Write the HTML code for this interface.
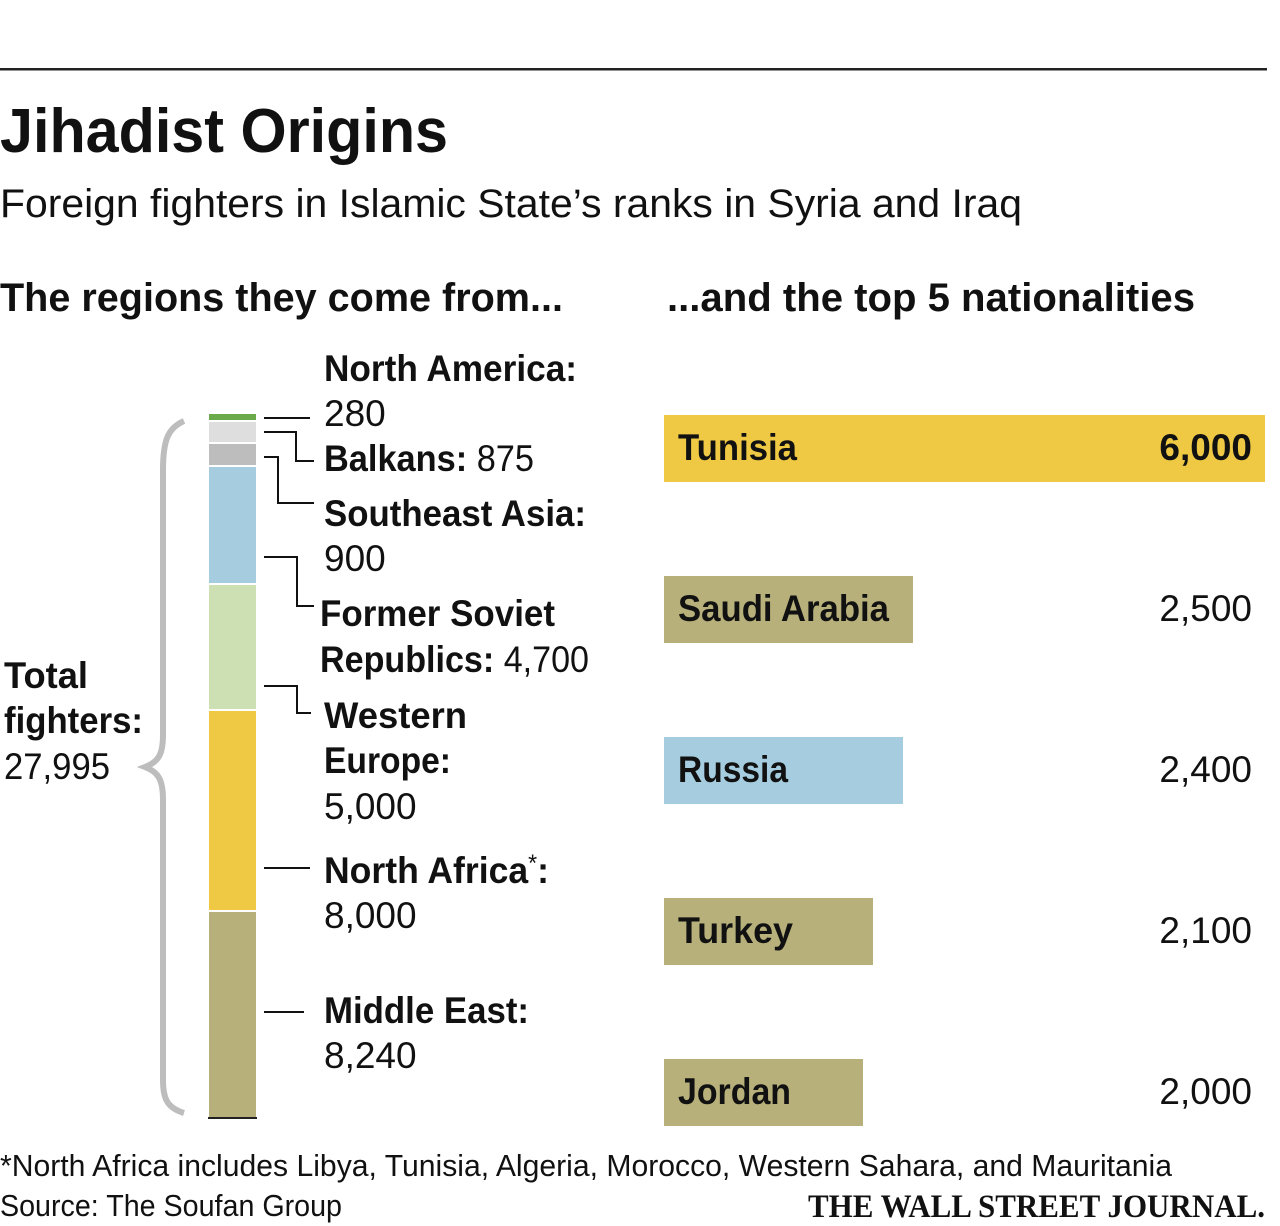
<!DOCTYPE html>
<html><head><meta charset="utf-8"><style>
html,body{margin:0;padding:0;background:#fff;width:1280px;height:1226px;overflow:hidden}
text{font-family:"Liberation Sans Narrow","Liberation Sans",sans-serif;fill:#111}
.b{font-weight:bold}
</style></head><body>
<svg width="1280" height="1226" viewBox="0 0 1280 1226" xmlns="http://www.w3.org/2000/svg">
<rect x="0" y="68" width="1267" height="2.5" fill="#222"/>
<text x="0" y="152" class="b" font-size="62" textLength="448" lengthAdjust="spacingAndGlyphs">Jihadist Origins</text>
<text x="0" y="217" font-size="40" textLength="1022" lengthAdjust="spacingAndGlyphs">Foreign fighters in Islamic State’s ranks in Syria and Iraq</text>
<text x="0" y="311" class="b" font-size="40" textLength="563" lengthAdjust="spacingAndGlyphs">The regions they come from...</text>
<text x="667" y="311" class="b" font-size="40" textLength="528" lengthAdjust="spacingAndGlyphs">...and the top 5 nationalities</text>
<rect x="209" y="414" width="47" height="6" fill="#6aaa4a"/>
<rect x="209" y="422" width="47" height="20" fill="#dedede"/>
<rect x="209" y="444" width="47" height="21" fill="#bdbdbd"/>
<rect x="209" y="467" width="47" height="116" fill="#a5cddf"/>
<rect x="209" y="585" width="47" height="124" fill="#cde0b4"/>
<rect x="209" y="711" width="47" height="199" fill="#efc944"/>
<rect x="209" y="912" width="47" height="205" fill="#b7b07a"/>
<rect x="208" y="1117" width="49" height="2" fill="#222"/>
<path d="M184 421 C168 428 163 440 163 470 L163 735 C163 755 158 762 145 767 C158 772 163 779 163 800 L163 1080 C163 1100 168 1108 184 1113" fill="none" stroke="#bdbdbd" stroke-width="6"/>
<g fill="none" stroke="#111" stroke-width="2">
<path d="M264 418 H310"/>
<path d="M264 432 H296 V461 H314"/>
<path d="M264 457 H278 V503 H314"/>
<path d="M264 557 H297 V606 H314"/>
<path d="M264 686 H297 V713 H311"/>
<path d="M264 868 H310"/>
<path d="M264 1012 H304"/>
</g>
<g font-size="37">
<text x="324" y="381" class="b" textLength="253" lengthAdjust="spacingAndGlyphs">North America:</text>
<text x="324" y="426">280</text>
<text x="324" y="471" textLength="210" lengthAdjust="spacingAndGlyphs"><tspan class="b">Balkans:</tspan> 875</text>
<text x="324" y="526" class="b" textLength="262" lengthAdjust="spacingAndGlyphs">Southeast Asia:</text>
<text x="324" y="571">900</text>
<text x="320" y="626" class="b" textLength="235" lengthAdjust="spacingAndGlyphs">Former Soviet</text>
<text x="320" y="672" textLength="269" lengthAdjust="spacingAndGlyphs"><tspan class="b">Republics:</tspan> 4,700</text>
<text x="324" y="728" class="b" textLength="143" lengthAdjust="spacingAndGlyphs">Western</text>
<text x="324" y="773" class="b" textLength="127" lengthAdjust="spacingAndGlyphs">Europe:</text>
<text x="324" y="819">5,000</text>
<text x="324" y="883" class="b" textLength="225" lengthAdjust="spacingAndGlyphs">North Africa<tspan font-size="24" dy="-12" font-weight="normal">*</tspan><tspan dy="12">:</tspan></text>
<text x="324" y="928">8,000</text>
<text x="324" y="1023" class="b" textLength="205" lengthAdjust="spacingAndGlyphs">Middle East:</text>
<text x="324" y="1068">8,240</text>
<text x="4" y="688" class="b" textLength="84" lengthAdjust="spacingAndGlyphs">Total</text>
<text x="4" y="733" class="b" textLength="139" lengthAdjust="spacingAndGlyphs">fighters:</text>
<text x="4" y="779" textLength="106" lengthAdjust="spacingAndGlyphs">27,995</text>
</g>
<rect x="664" y="415" width="601" height="67" fill="#efc944"/>
<rect x="664" y="576" width="249" height="67" fill="#b7b07a"/>
<rect x="664" y="737" width="239" height="67" fill="#a5cddf"/>
<rect x="664" y="898" width="209" height="67" fill="#b7b07a"/>
<rect x="664" y="1059" width="199" height="67" fill="#b7b07a"/>
<g font-size="37">
<text x="678" y="460" class="b" textLength="119" lengthAdjust="spacingAndGlyphs">Tunisia</text>
<text x="1252" y="460" class="b" text-anchor="end">6,000</text>
<text x="678" y="621" class="b" textLength="211" lengthAdjust="spacingAndGlyphs">Saudi Arabia</text>
<text x="1252" y="621" text-anchor="end">2,500</text>
<text x="678" y="782" class="b" textLength="110" lengthAdjust="spacingAndGlyphs">Russia</text>
<text x="1252" y="782" text-anchor="end">2,400</text>
<text x="678" y="943" class="b" textLength="115" lengthAdjust="spacingAndGlyphs">Turkey</text>
<text x="1252" y="943" text-anchor="end">2,100</text>
<text x="678" y="1104" class="b" textLength="113" lengthAdjust="spacingAndGlyphs">Jordan</text>
<text x="1252" y="1104" text-anchor="end">2,000</text>
</g>
<text x="0" y="1176" font-size="31" textLength="1172" lengthAdjust="spacingAndGlyphs">*North Africa includes Libya, Tunisia, Algeria, Morocco, Western Sahara, and Mauritania</text>
<text x="0" y="1216" font-size="31" textLength="342" lengthAdjust="spacingAndGlyphs">Source: The Soufan Group</text>
<text x="808" y="1217" font-size="33" font-weight="bold" style="font-family:'Liberation Serif',serif" textLength="457" lengthAdjust="spacingAndGlyphs">THE WALL STREET JOURNAL.</text>
</svg>
</body></html>
